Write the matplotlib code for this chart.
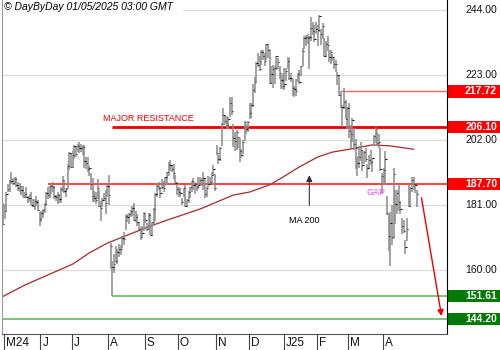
import pandas as pd
import matplotlib
matplotlib.use("Agg")
import matplotlib.pyplot as plt
from matplotlib.patches import Rectangle
from matplotlib.transforms import blended_transform_factory

plt.rcParams['font.family'] = ['Liberation Sans', 'DejaVu Sans']

# trading days, Apr 30 2024 -> Apr 30 2025
holidays = ["2024-05-27", "2024-06-19", "2024-07-04", "2024-09-02", "2024-11-28",
            "2024-12-25", "2025-01-01", "2025-01-09", "2025-01-20", "2025-02-17",
            "2025-04-18"]
dates = pd.bdate_range("2024-04-30", "2025-04-30")
dates = dates[~dates.isin(pd.to_datetime(holidays))]

highs = [181.6,
    181.3,185.2,187.9,189.0,191.7,189.8,190.0,189.9,188.3,188.0,186.7,187.0,185.3,186.7,183.9,184.6,185.1,182.9,182.8,183.8,182.7,178.8,
    178.9,179.8,181.7,185.3,186.8,187.2,187.8,188.4,187.0,184.2,185.2,184.4,186.7,190.3,188.7,186.6,194.1,198.2,197.7,
    198.3,200.4,200.0,200.6,201.2,200.8,200.5,200.3,196.5,196.6,193.6,191.4,189.7,185.4,185.1,189.4,185.8,182.4,183.2,184.8,185.9,187.4,
    190.6,168.8,163.0,165.1,167.6,166.7,168.4,168.1,171.0,172.2,177.8,178.0,178.3,179.3,180.8,181.5,178.9,178.2,175.2,174.0,174.3,178.6,
    178.2,175.3,178.4,178.4,175.5,180.0,184.8,187.4,188.5,186.8,189.5,188.8,190.0,191.8,195.0,195.4,193.9,194.3,190.7,188.4,
    186.9,186.6,183.4,186.6,187.6,183.0,185.6,186.9,188.8,189.8,188.4,187.8,189.9,190.0,189.7,191.5,189.8,186.9,190.5,190.2,191.5,194.0,191.0,
    200.5,197.3,199.8,207.6,212.3,209.9,209.6,209.5,215.9,215.9,207.3,204.7,205.3,203.0,202.8,199.0,201.9,208.0,207.2,208.2,
    214.0,214.0,220.0,222.2,227.2,230.1,229.1,231.2,231.1,230.2,233.0,232.7,231.4,226.0,226.2,226.0,229.1,228.5,226.0,223.0,223.2,
    225.2,225.4,228.8,228.4,223.5,221.7,219.4,221.8,223.6,224.7,226.0,231.8,235.5,236.0,236.4,235.6,241.8,240.2,239.3,240.0,
    239.3,242.5,238.0,239.7,234.8,234.0,235.5,231.2,231.2,229.7,228.6,227.8,224.0,223.0,217.72,213.3,218.9,215.0,212.6,
    214.0,206.8,209.0,205.8,202.3,196.7,200.2,201.5,198.9,198.3,199.3,194.3,197.0,198.8,196.2,203.6,206.2,205.0,203.8,199.3,191.3,
    193.0,198.3,184.0,178.1,178.6,181.0,192.9,186.0,185.9,187.7,182.4,176.8,176.2,169.6,176.8,187.4,186.7,189.9,190.2,188.0,186.0]

lows = [174.4,
    176.4,178.9,185.2,185.3,187.9,187.4,187.5,186.9,185.4,185.3,184.2,183.5,183.1,183.3,181.8,182.1,180.9,180.5,179.5,180.6,179.0,174.1,
    175.6,176.9,178.3,180.7,183.0,183.1,184.4,185.1,182.8,182.3,181.3,181.5,181.6,185.2,185.0,183.5,186.2,192.2,192.9,
    192.8,195.9,196.4,198.2,197.9,198.0,197.0,192.9,192.6,191.8,190.5,185.9,182.0,182.0,181.3,183.0,180.4,175.8,180.2,182.4,178.0,183.5,
    180.9,160.2,151.61,158.9,162.4,162.0,164.1,164.7,167.2,168.2,173.0,175.5,175.0,177.1,177.6,175.9,175.5,174.3,172.8,169.8,170.7,172.6,
    175.3,172.7,172.9,171.2,171.0,174.1,175.8,183.5,185.9,183.4,186.2,185.1,187.0,187.4,190.5,191.9,191.8,189.4,187.3,184.3,
    183.5,183.5,180.9,183.6,180.2,180.6,181.8,183.3,185.2,186.0,184.6,185.6,186.3,187.6,187.0,186.0,183.1,183.5,186.8,187.6,187.8,190.5,185.6,
    197.0,194.3,195.1,200.1,207.1,206.7,205.6,205.6,209.3,210.0,199.6,198.4,198.8,199.5,195.0,196.1,197.4,201.8,204.0,204.6,
    208.9,209.0,212.8,217.3,220.6,225.7,224.2,226.3,227.8,225.9,228.0,228.6,220.1,220.0,218.7,220.0,224.7,225.0,221.8,218.4,218.5,
    218.2,221.0,224.8,221.5,220.6,216.2,216.0,216.2,220.6,220.0,222.6,226.0,231.5,232.5,232.9,225.0,234.0,236.0,233.5,236.1,
    232.5,237.0,232.6,234.7,228.7,229.2,230.7,227.3,226.7,227.6,224.8,223.9,219.8,216.1,212.4,206.1,212.0,208.7,205.6,
    202.6,199.4,201.2,198.8,192.5,190.3,192.9,195.3,192.0,194.3,194.8,189.8,192.5,193.8,191.6,200.0,201.0,200.0,199.3,191.9,184.4,
    187.5,187.4,177.9,166.0,161.4,168.0,169.9,175.0,178.0,179.2,178.1,171.7,172.0,165.3,169.4,180.2,180.2,185.2,185.8,184.9,180.5]

closes = [175.0,
    179.0,184.7,186.2,188.7,188.8,188.0,189.5,187.5,186.6,187.1,186.0,183.6,184.7,183.5,183.2,183.1,181.1,180.8,182.2,182.0,179.3,176.4,
    178.3,179.3,181.3,185.0,184.3,187.1,187.2,186.9,183.8,183.7,184.1,182.8,186.1,189.1,185.6,186.3,193.6,197.9,193.3,
    197.2,200.0,197.6,200.0,199.3,199.3,199.8,195.1,194.5,192.7,193.0,187.9,183.8,183.1,182.6,186.4,180.8,179.9,182.5,183.2,181.7,187.0,
    184.1,167.9,161.0,161.9,162.8,165.8,166.9,166.8,170.2,170.1,177.6,177.1,178.2,178.9,180.1,176.1,177.0,175.5,173.1,170.8,172.1,178.5,
    176.3,173.3,177.9,171.4,175.4,179.6,184.5,187.0,186.5,184.9,186.9,186.4,189.9,191.6,193.9,194.0,192.5,191.2,188.0,186.3,
    185.1,184.8,182.0,186.5,180.8,182.7,185.2,186.7,188.8,187.5,187.7,186.9,187.5,189.0,189.1,189.7,184.7,186.4,187.8,188.4,190.8,192.7,186.4,
    197.9,195.8,199.5,207.1,210.1,208.2,206.8,208.9,214.1,211.5,202.6,201.7,204.6,202.9,198.4,197.1,201.5,207.9,205.7,207.9,
    210.7,213.4,218.2,220.6,227.0,226.1,225.0,230.3,229.0,227.5,232.9,231.2,220.5,223.3,224.9,225.1,229.1,227.1,223.8,221.3,219.4,
    220.2,224.2,227.6,222.1,222.1,218.9,218.5,217.8,223.4,220.7,225.9,230.7,235.0,235.4,234.9,235.4,238.2,237.1,234.6,237.7,
    237.4,242.1,236.2,238.8,229.2,233.1,232.8,228.9,230.4,228.7,226.7,226.6,222.9,216.6,212.7,212.8,214.4,208.7,212.3,
    205.0,203.8,208.4,200.7,199.3,194.5,196.6,198.9,193.9,198.0,195.7,192.8,195.5,195.0,196.2,203.3,205.7,201.1,201.4,192.7,190.3,
    192.2,196.0,178.4,171.0,175.3,170.7,191.1,181.2,184.9,182.1,179.6,174.3,172.6,167.3,173.2,180.6,186.5,189.0,187.7,187.4,184.4]

# 200-day moving average
ma_dates = ["2024-04-30", "2024-05-17", "2024-06-04", "2024-07-01", "2024-07-16", "2024-07-31",
            "2024-08-09", "2024-09-06", "2024-09-20", "2024-10-18", "2024-11-15", "2024-12-02",
            "2024-12-18", "2024-12-31", "2025-01-16", "2025-02-03", "2025-02-14", "2025-03-03",
            "2025-03-21", "2025-04-07", "2025-04-28"]
ma_values = [151.3, 155.1, 157.7, 161.9, 165.5, 168.7,
             170.2, 174.2, 176.1, 179.7, 184.2, 185.2,
             187.5, 190.0, 193.3, 196.5, 198.1, 199.0,
             200.4, 200.1, 199.0]

levels = [217.72, 206.10, 187.70, 151.61, 144.20]
level_from = ["2025-02-24", "2024-08-05", "2024-06-07", "2024-08-05", "2024-04-30"]
level_colors = ["#ff6060", "#ee0000", "#ff2020", "#7cc47c", "#7cc47c"]
level_widths = [1.0, 2.0, 1.2, 1.4, 1.4]
box_colors = ["#ff0000", "#ff0000", "#ff0000", "#007a00", "#007a00"]

grid_values = [244, 223, 202, 181, 160]
month_labels = ["M24", "J", "J", "A", "S", "O", "N", "D", "J25", "F", "M", "A"]

n = len(dates)
highs, lows, closes = highs[:n], lows[:n], closes[:n]
x = list(range(len(closes)))


def pos(d):
    return dates.get_loc(pd.Timestamp(d))


fig = plt.figure(figsize=(5, 3.5), dpi=100)
ax = fig.add_axes([2/500, 16/350, 445/500, 334/350])
x0, x1 = -0.71, 268.2
ax.set_xlim(x0, x1)
ax.set_ylim(139.32, 247.23)

ax.hlines(grid_values, x0, x1, color="#dddddd", lw=0.9, zorder=0)

# bars
ax.vlines(x, lows, highs, color="#8a8a8a", lw=1.1, zorder=3)
ax.hlines(closes, [i for i in x], [i + 0.8 for i in x], color="#111111", lw=0.8, zorder=3)

ma_x = [pos(d) for d in ma_dates]
ma_x[0] = x0
ax.plot(ma_x, ma_values, color="#a52a2a", lw=0.9, zorder=2)

for lv, d, c, w in zip(levels, level_from, level_colors, level_widths):
    start = x0 if d == "2024-04-30" else pos(d)
    ax.hlines(lv, start, x1, color=c, lw=w, zorder=2)

tr = blended_transform_factory(ax.transAxes, ax.transData)
for lv, bc in zip(levels, box_colors):
    ax.add_patch(Rectangle((1.0, lv - 2.0), 53/445, 4.0, transform=tr, facecolor=bc,
                           edgecolor="none", clip_on=False))
    ax.text(1.1124, lv, f"{lv:.2f}", transform=tr, ha="right", va="center", color="white",
            fontsize=7.5, fontweight="bold", clip_on=False)
for g in grid_values:
    ax.text(1.1124, g, f"{g:.2f}", transform=tr, ha="right", va="center", color="#111111",
            fontsize=7.5, clip_on=False)

ax.text(pos("2024-09-05"), 209.1, "MAJOR RESISTANCE", color="#ee0000", fontsize=6.5,
        ha="center", va="center")
arr_x = pos("2025-01-27")
ax.annotate("", xy=(arr_x, 191.5), xytext=(arr_x, 180.0),
            arrowprops=dict(arrowstyle="-|>", color="#333333", lw=0.8, mutation_scale=9))
ax.text(pos("2025-01-22"), 176.1, "MA 200", fontsize=6.5, ha="center", va="center")
ax.text(pos("2025-03-25"), 184.9, "GAP", color="#ff44ff", fontsize=6.5, ha="center", va="center")
last = len(closes) - 1
ax.annotate("", xy=(last + 15.2, levels[-1]), xytext=(last + 2.5, 184.2),
            arrowprops=dict(arrowstyle="-|>", color="#ee0000", lw=1.0, mutation_scale=9))

ax.spines["top"].set_visible(False)
ax.spines["left"].set_color("#999999")
ax.spines["right"].set_color("#000000")
ax.spines["bottom"].set_color("#555555")
ax.set_xticks([])
ax.set_yticks([])

# month band
ax2 = fig.add_axes([2/500, 0, 445/500, 16/350])
ax2.set_xlim(x0, x1)
ax2.set_ylim(0, 1)
ax2.axis("off")
month_starts = [i for i in range(1, n) if dates[i].month != dates[i - 1].month]
for i, lab in zip(month_starts, month_labels):
    ax2.vlines(i - 0.5, 0, 1, color="#444444", lw=0.8)
    ax2.text(i + 0.8, 0.42, lab, fontsize=8.5, ha="left", va="center", color="#111111")

fig.add_artist(Rectangle((3/500, 1 - 15/350), 180/500, 15/350, transform=fig.transFigure,
                         facecolor="white", edgecolor="none", zorder=5))
fig.text(4/500, 1 - 7/350, "© DayByDay 01/05/2025 03:00 GMT", fontsize=7.5, style="italic",
         va="center", ha="left", zorder=6)

fig.savefig("out.png", dpi=100)
